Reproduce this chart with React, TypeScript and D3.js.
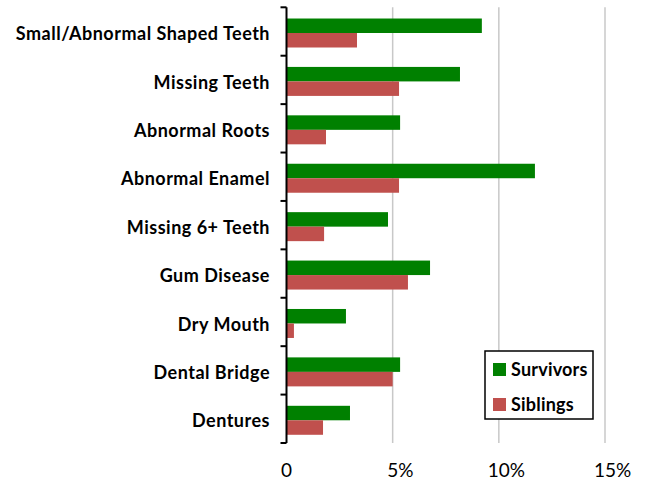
import React from "react";
import * as d3 from "d3";

const categories = [
  "Small/Abnormal Shaped Teeth",
  "Missing Teeth",
  "Abnormal Roots",
  "Abnormal Enamel",
  "Missing 6+ Teeth",
  "Gum Disease",
  "Dry Mouth",
  "Dental Bridge",
  "Dentures",
];
const seriesNames = ["Survivors", "Siblings"];
const survivors = [9.2, 8.17, 5.35, 11.7, 4.78, 6.76, 2.8, 5.35, 2.99];
const siblings = [3.32, 5.3, 1.86, 5.3, 1.77, 5.72, 0.35, 5.0, 1.72];
const xTicks = [0, 5, 10, 15];
const xTickLabels = ["0", "5%", "10%", "15%"];
const colors = ["#008000", "#C0504D"];

const W = 646;
const H = 481;
const margin = { left: 286.5, right: 41, top: 7.3, bottom: 38 };

export default function App() {
  const x = d3.scaleLinear().domain([0, 15]).range([margin.left, W - margin.right]);
  const y = d3
    .scaleBand()
    .domain(categories)
    .range([margin.top, H - margin.bottom])
    .paddingInner(0)
    .paddingOuter(0);
  // two bars per band, gap on both sides
  const inner = d3
    .scaleBand()
    .domain(seriesNames)
    .range([0, y.bandwidth()])
    .paddingInner(0)
    .paddingOuter(0.67);

  const values = [survivors, siblings];
  const font = "Lato, 'Open Sans', sans-serif";
  const yTickPos = categories.map((c) => y(c) as number).concat([y.range()[1]]);

  return (
    <svg
      width={W}
      height={H}
      style={{ position: "absolute", left: 0, top: 0, background: "#fff" }}
      fontFamily={font}
    >
      {/* vertical gridlines */}
      {xTicks.slice(1).map((t) => (
        <line
          key={t}
          x1={x(t)}
          x2={x(t)}
          y1={y.range()[0]}
          y2={y.range()[1]}
          stroke="#c8c8c8"
          strokeWidth={1.5}
        />
      ))}

      {/* bars */}
      {categories.map((c, i) => (
        <g key={c} transform={`translate(0,${(y(c) as number) + 1.5})`}>
          {seriesNames.map((s, j) => (
            <rect
              key={s}
              x={x(0)}
              y={inner(s)}
              width={x(values[j][i]) - x(0)}
              height={inner.bandwidth()}
              fill={colors[j]}
            />
          ))}
        </g>
      ))}

      {/* y axis */}
      <line
        x1={x(0)}
        x2={x(0)}
        y1={y.range()[0]}
        y2={y.range()[1]}
        stroke="#000"
        strokeWidth={2}
      />
      {yTickPos.map((p, i) => (
        <line key={i} x1={x(0) - 6} x2={x(0)} y1={p} y2={p} stroke="#000" strokeWidth={2} />
      ))}
      {categories.map((c) => (
        <text
          key={c}
          x={270}
          y={(y(c) as number) + y.bandwidth() / 2 + 8.7}
          textAnchor="end"
          fontWeight="bold"
          fontSize={18}
          letterSpacing={0.5}
          fill="#000"
        >
          {c}
        </text>
      ))}

      {/* x tick labels: number centred on the tick, % trailing */}
      {xTicks.map((t, i) => (
        <text
          key={t}
          x={x(t) - String(t).length * 5.5}
          y={476.5}
          textAnchor="start"
          fontSize={19}
          fill="#000"
        >
          {xTickLabels[i]}
        </text>
      ))}

      {/* legend */}
      <g transform="translate(485,351)">
        <rect x={0} y={0} width={108} height={68} fill="#fff" stroke="#000" strokeWidth={1.5} />
        {seriesNames.map((s, j) => (
          <g key={s} transform={`translate(8,${12 + j * 35})`}>
            <rect x={0} y={0} width={13} height={13} fill={colors[j]} />
            <text x={18} y={13} fontWeight="bold" fontSize={18} letterSpacing={0.2} fill="#000">
              {s}
            </text>
          </g>
        ))}
      </g>
    </svg>
  );
}
